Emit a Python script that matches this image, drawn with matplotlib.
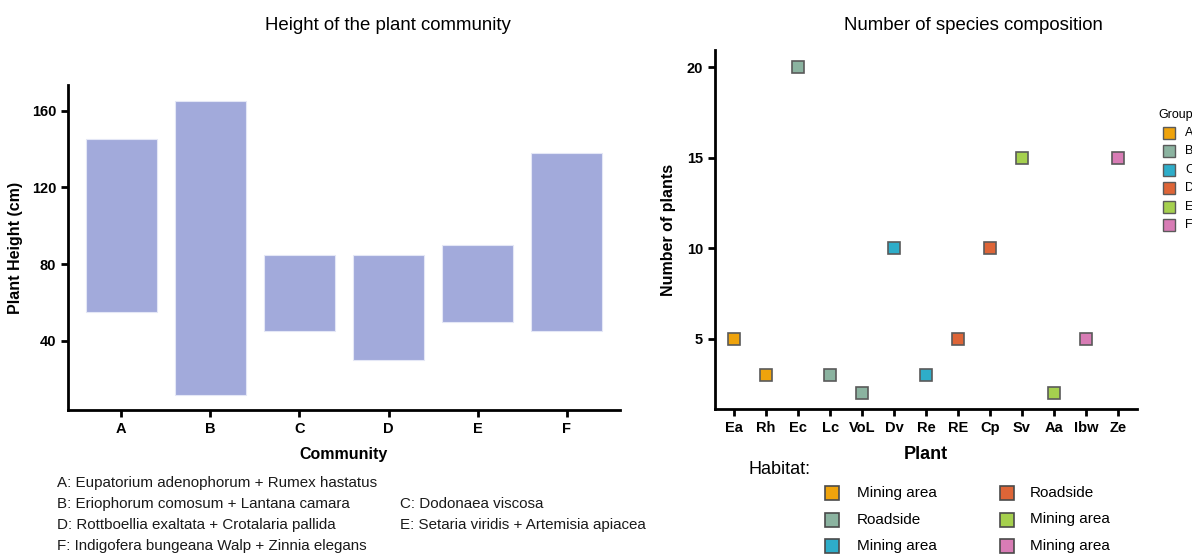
import numpy as np
from matplotlib import pyplot as plt
from matplotlib.lines import Line2D

plt.rcParams['font.family'] = ['Liberation Sans', 'DejaVu Sans']

# left panel: height range of each community
communities = ['A', 'B', 'C', 'D', 'E', 'F']
height_low = [55, 12, 45, 30, 50, 45]
height_high = [145, 165, 85, 85, 90, 138]

# right panel: number of plants per species
plants = ['Ea', 'Rh', 'Ec', 'Lc', 'VoL', 'Dv', 'Re', 'RE', 'Cp', 'Sv', 'Aa', 'Ibw', 'Ze']
n_plants = [5, 3, 20, 3, 2, 10, 3, 5, 10, 15, 2, 5, 15]
plant_group = ['A', 'A', 'B', 'B', 'B', 'C', 'C', 'D', 'D', 'E', 'E', 'F', 'F']

group_colors = {'A': '#EFA30C', 'B': '#8BB3A0', 'C': '#2EADC9',
                'D': '#DE6537', 'E': '#A5D04E', 'F': '#D87CB5'}
habitat = ['Mining area', 'Roadside', 'Mining area', 'Roadside', 'Mining area', 'Mining area']

footnotes = ['A: Eupatorium adenophorum + Rumex hastatus',
             'B: Eriophorum comosum + Lantana camara',
             'C: Dodonaea viscosa',
             'D: Rottboellia exaltata + Crotalaria pallida',
             'E: Setaria viridis + Artemisia apiacea',
             'F: Indigofera bungeana Walp + Zinnia elegans']

W, H = 1192, 557
fig = plt.figure(figsize=(W / 100, H / 100), dpi=100)


def px_axes(x0, y0, x1, y1):
    return fig.add_axes([x0 / W, 1 - y1 / H, (x1 - x0) / W, (y1 - y0) / H])


def style_axes(ax):
    for s in ['top', 'right']:
        ax.spines[s].set_visible(False)
    for s in ['left', 'bottom']:
        ax.spines[s].set_linewidth(2)
    ax.tick_params(width=2, length=5, labelsize=10.5)
    for lab in ax.get_xticklabels() + ax.get_yticklabels():
        lab.set_fontweight('bold')


# ---- left chart ----
ax1 = px_axes(68, 85, 620, 410)
x = np.arange(len(communities))
ax1.bar(x, np.array(height_high) - np.array(height_low), bottom=height_low,
        width=0.79, color='#A2AADB', edgecolor='#E4E7F6', linewidth=0.8)
ax1.set_xticks(x)
ax1.set_xticklabels(communities)
ax1.set_yticks([40, 80, 120, 160])
ax1.set_xlim(-0.6, 5.6)
ax1.set_ylim(4, 173.4)
style_axes(ax1)
ax1.set_xlabel('Community', fontsize=11.5, fontweight='bold', labelpad=8)
ax1.set_ylabel('Plant Height (cm)', fontsize=11.5, fontweight='bold', labelpad=6)
fig.text(265 / W, 1 - 25 / H, 'Height of the plant community', fontsize=13.4,
         ha='left', va='center')

# footnotes
fx = [57, 57, 400, 57, 400, 57]
fy = [483, 504, 504, 525, 525, 546]
for t, xx, yy in zip(footnotes, fx, fy):
    fig.text(xx / W, 1 - yy / H, t, fontsize=10.9, ha='left', va='center', color='#1a1a1a')

# ---- right chart ----
ax2 = px_axes(715, 50, 1137, 409)
xp = np.arange(len(plants))
for i, (v, g) in enumerate(zip(n_plants, plant_group)):
    ax2.plot(xp[i], v, marker='s', markersize=9, color=group_colors[g],
             markeredgecolor='#5a5a5a', markeredgewidth=1.2, linestyle='none')
ax2.set_xticks(xp)
ax2.set_xticklabels(plants)
ax2.set_yticks([5, 10, 15, 20])
ax2.set_xlim(-0.6, 12.6)
ax2.set_ylim(1.13, 20.94)
style_axes(ax2)
ax2.set_xlabel('Plant', fontsize=13, fontweight='bold', labelpad=8)
ax2.set_ylabel('Number of plants', fontsize=11.5, fontweight='bold', labelpad=8)
fig.text(973 / W, 1 - 25 / H, 'Number of species composition', fontsize=13.4,
         ha='center', va='center')

# group legend (cut by the figure edge)
fig.text(1158 / W, 1 - 115 / H, 'Group', fontsize=9, ha='left', va='center')
for k, g in enumerate(communities):
    yy = 133 + k * 18.4
    fig.add_artist(Line2D([1169 / W], [1 - yy / H], marker='s', markersize=8,
                          color=group_colors[g], markeredgecolor='#5a5a5a',
                          markeredgewidth=1.0, linestyle='none'))
    fig.text(1185 / W, 1 - yy / H, g, fontsize=9, ha='left', va='center')

# habitat legend
fig.text(748 / W, 1 - 470 / H, 'Habitat:', fontsize=13, ha='left', va='center')
for k, g in enumerate(communities):
    col, row = divmod(k, 3)
    mx = [832, 1007][col]
    tx = [857, 1030][col]
    yy = 493 + row * 26.5
    fig.add_artist(Line2D([mx / W], [1 - yy / H], marker='s', markersize=10,
                          color=group_colors[g], markeredgecolor='#4a4a4a',
                          markeredgewidth=1.2, linestyle='none'))
    fig.text(tx / W, 1 - yy / H, habitat[k], fontsize=11, ha='left', va='center')

fig.savefig('out.png', dpi=100)
